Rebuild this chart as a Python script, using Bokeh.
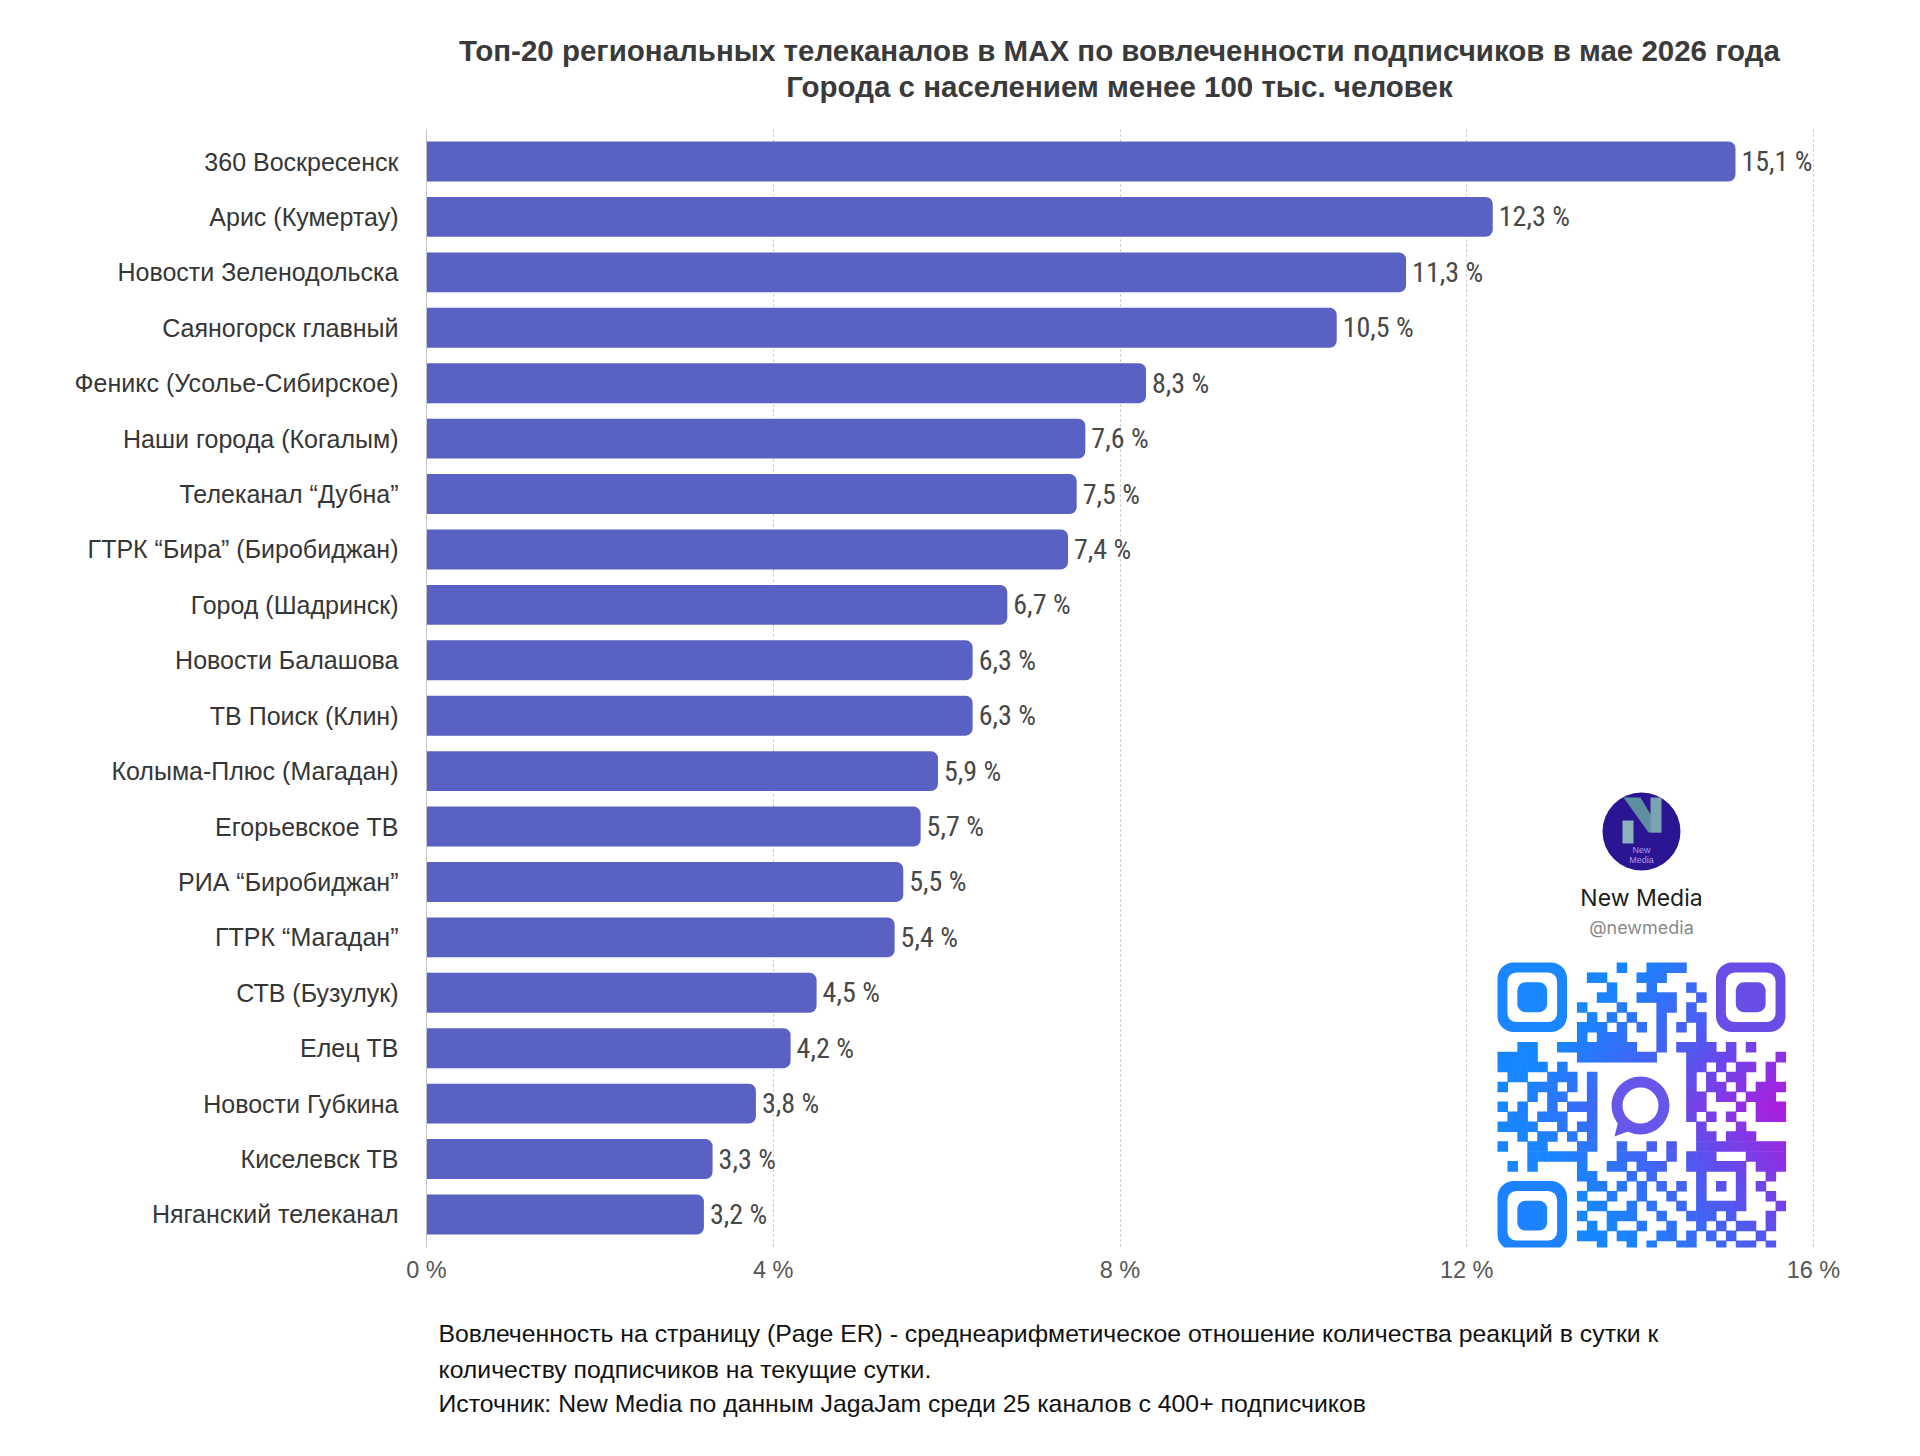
from bokeh.plotting import figure
from bokeh.layouts import column
from bokeh.models import Range1d, FixedTicker, Label, LabelSet, ColumnDataSource
from bokeh.core.properties import value
from bokeh.embed import file_html
from bokeh.resources import INLINE

# ---------------- data ----------------
channels = [
    "360 Воскресенск", "Арис (Кумертау)", "Новости Зеленодольска", "Саяногорск главный",
    "Феникс (Усолье-Сибирское)", "Наши города (Когалым)", "Телеканал “Дубна”",
    "ГТРК “Бира” (Биробиджан)", "Город (Шадринск)", "Новости Балашова", "ТВ Поиск (Клин)",
    "Колыма-Плюс (Магадан)", "Егорьевское ТВ", "РИА “Биробиджан”", "ГТРК “Магадан”",
    "СТВ (Бузулук)", "Елец ТВ", "Новости Губкина", "Киселевск ТВ", "Няганский телеканал",
]
er_values = [15.1, 12.3, 11.3, 10.5, 8.3, 7.6, 7.5, 7.4, 6.7, 6.3,
             6.3, 5.9, 5.7, 5.5, 5.4, 4.5, 4.2, 3.8, 3.3, 3.2]
x_ticks = [0, 4, 8, 12, 16]
x_tick_labels = ["0 %", "4 %", "8 %", "12 %", "16 %"]

title_lines = [
    "Топ-20 региональных телеканалов в MAX по вовлеченности подписчиков в мае 2026 года",
    "Города с населением менее 100 тыс. человек",
]
note_lines = [
    "Вовлеченность на страницу (Page ER) - среднеарифметическое отношение количества реакций в сутки к",
    "количеству подписчиков на текущие сутки.",
    "Источник: New Media по данным JagaJam среди 25 каналов с 400+ подписчиков",
]

# QR-code decoration (module columns per row, finder patterns drawn separately)
qr_rows = [
    "12,15-18", "9-10,14-16", "11,15,19", "10-11,14-17,20", "8,12,16-17,19",
    "9,11,13,16,19-20", "8-10,12,14,16,18,20", "8,10-12,16,20",
    "2-3,6-13,16,18-21,23,25", "0-3,8-15,19-23,28", "0-4,6,19-20,22,24-25,27",
    "1-2,5-7,9,19,21,23-24,27", "0,3-5,7,9,19,21-22,24,26-28", "3,5-6,9,19-20,22-23,25-27",
    "0,2,5,7-9,19-20,24,26-28", "1-2,4-6,9,19,21,23,26-28", "0-3,6,8-9,20,24",
    "2,4-5,7,9,20-21,23-25", "0,3-4,8-9,12,15,17,20-28", "3-8,12-14,17,19-21,25-28",
    "1,3,8,11-12,14-16,19-24,26-28", "8-9,13,15,20,24,27", "9-10,12,14,16,18,20,22,24,26",
    "8,11,14,17,20,24,27", "9-10,13,15,18,20-24,28", "8,11-13,16,19-21,23,27",
    "9,11,14,17,20,22,24-25,27", "8-10,12-13,16-17,19,21,23,26", "10,13,15,18-19,22,24-25,27",
]

# ---------------- geometry (page pixels) ----------------
W = 1920
TOP_H, MAIN_BOTTOM, NOTE_BOTTOM = 112, 1300, 1450
FL, F16, FR, FT, FB = 426, 1813, 1862, 129, 1247
BAR0, SP = 161, 55.42
XPX = 16.0 / (F16 - FL)


def dx(px):
    return (px - FL) * XPX


def dy(py):
    return (py - BAR0) / SP


def text_panel(y0, y1):
    # frame aligned with the chart frame; coordinates are page pixels
    f = figure(width=W, height=y1 - y0, x_range=Range1d(FL, FR), y_range=Range1d(y1, y0),
               output_backend="svg", toolbar_location=None,
               min_border_left=FL, min_border_right=W - FR,
               min_border_top=0, min_border_bottom=0,
               x_axis_type=None, y_axis_type=None)
    f.outline_line_color = None
    f.grid.visible = False
    return f


# ---------------- title ----------------
head = text_panel(0, TOP_H)
head.text(x=[1119, 1119], y=[50, 86], text=title_lines, text_align="center",
          text_baseline="middle", text_font=value("Liberation Sans"),
          text_font_style="bold", text_font_size="29.5px", text_color="#3a3a3a")

# ---------------- main chart ----------------
p = figure(width=W, height=MAIN_BOTTOM - TOP_H, x_range=Range1d(0, dx(FR)),
           y_range=Range1d(dy(FB), dy(FT)),
           output_backend="svg", toolbar_location=None,
           min_border_left=FL, min_border_right=W - FR,
           min_border_top=FT - TOP_H, min_border_bottom=MAIN_BOTTOM - FB)
p.outline_line_color = None
p.background_fill_color = "white"
p.border_fill_color = "white"

p.xaxis.ticker = FixedTicker(ticks=x_ticks)
p.xaxis.major_label_overrides = {t: l for t, l in zip(x_ticks, x_tick_labels)}
p.xaxis.axis_line_color = None
p.xaxis.major_tick_line_color = None
p.xaxis.minor_tick_line_color = None
p.xaxis.major_tick_out = 0
p.xaxis.major_label_standoff = 9
p.xaxis.major_label_text_font = "Liberation Sans"
p.xaxis.major_label_text_font_size = "23.5px"
p.xaxis.major_label_text_color = "#555555"

ypos = list(range(len(channels)))
p.yaxis.ticker = FixedTicker(ticks=ypos)
p.yaxis.major_label_overrides = {i: n for i, n in zip(ypos, channels)}
p.yaxis.axis_line_color = "#c4c4c4"
p.yaxis.major_tick_line_color = None
p.yaxis.minor_tick_line_color = None
p.yaxis.major_tick_out = 0
p.yaxis.major_label_standoff = 28
p.yaxis.major_label_text_font = "Liberation Sans"
p.yaxis.major_label_text_font_size = "25px"
p.yaxis.major_label_text_color = "#363636"

p.ygrid.grid_line_color = None
p.xgrid.ticker = FixedTicker(ticks=x_ticks[1:])
p.xgrid.grid_line_color = "#bdbdbd"
p.xgrid.grid_line_dash = "2 3"
p.xgrid.grid_line_width = 1

src = ColumnDataSource(dict(
    y=ypos, v=er_values,
    lbl=[f"{v:.1f}".replace(".", ",") + " %" for v in er_values],
))
p.hbar(y="y", left=0, right="v", height=0.72, source=src,
       fill_color="#5962c3", line_color=None, border_radius=(0, 7, 7, 0))
p.add_layout(LabelSet(x="v", y="y", text="lbl", source=src, x_offset=6,
                      text_baseline="middle", text_align="left",
                      text_font=value("Roboto Condensed, Roboto"),
                      text_font_size="28px", text_color="#484848"))

# ---------------- New Media badge ----------------
cx, cy = 1641, 831
p.scatter(x=[dx(cx)], y=[dy(cy)], size=78, marker="circle",
          fill_color="#2c1592", line_color=None)
p.patch(x=[dx(1622), dx(1633), dx(1633), dx(1622)],
        y=[dy(820), dy(820), dy(843), dy(843)], fill_color="#8db0bd", line_color=None)
p.patch(x=[dx(1623), dx(1640), dx(1661), dx(1648)],
        y=[dy(797), dy(797), dy(832), dy(832)], fill_color="#5e8fa0", line_color=None)
p.patch(x=[dx(1650), dx(1661), dx(1661), dx(1650)],
        y=[dy(797), dy(797), dy(832), dy(832)], fill_color="#7aa3b2", line_color=None)
for t, py in [("New", 849), ("Media", 859)]:
    p.add_layout(Label(x=dx(cx), y=dy(py), text=t, text_align="center",
                       text_baseline="middle", text_font="Liberation Sans",
                       text_font_size="9px", text_color="#a99cf0"))
p.add_layout(Label(x=dx(cx), y=dy(897), text="New Media", text_align="center",
                   text_baseline="middle", text_font="Inter", text_font_size="23px",
                   text_color="#1c1c1c"))
p.add_layout(Label(x=dx(cx), y=dy(927), text="@newmedia", text_align="center",
                   text_baseline="middle", text_font="Inter", text_font_size="18px",
                   text_color="#8a8a8a"))

# ---------------- QR code ----------------
QX, QY, M = 1497, 962, 9.93


def grad(c, r):
    t = c / 28.0 - 0.45 * abs(r - 14) / 14.0
    t = max(0.0, min(1.0, t))
    stops = [(0.0, (24, 134, 255)), (0.5, (82, 88, 240)), (1.0, (172, 30, 222))]
    for (t0, c0), (t1, c1) in zip(stops[:-1], stops[1:]):
        if t <= t1:
            f = (t - t0) / (t1 - t0)
            return "#%02x%02x%02x" % tuple(int(a + (b - a) * f) for a, b in zip(c0, c1))
    return "#%02x%02x%02x" % stops[-1][1]


L, R, T, B, C = [], [], [], [], []
for r, spec in enumerate(qr_rows):
    for part in spec.split(","):
        if "-" in part:
            a, b = part.split("-")
            cols = range(int(a), int(b) + 1)
        else:
            cols = [int(part)]
        for c in cols:
            L.append(dx(QX + c * M)); R.append(dx(QX + (c + 1) * M + 0.6))
            T.append(dy(QY + r * M)); B.append(dy(QY + (r + 1) * M + 0.6))
            C.append(grad(c, r))
p.quad(left=L, right=R, top=T, bottom=B, fill_color=C, line_color=None)

for (c0, r0), col in [((0, 0), "#1a86ff"), ((22, 0), "#6a4de6"), ((0, 22), "#1c82ff")]:
    for k, fc, rad in [(0, col, 16), (1, "white", 9), (2, col, 8)]:
        p.quad(left=[dx(QX + (c0 + k) * M)], right=[dx(QX + (c0 + 7 - k) * M)],
               top=[dy(QY + (r0 + k) * M)], bottom=[dy(QY + (r0 + 7 - k) * M)],
               fill_color=fc, line_color=None, border_radius=rad)

ix, iy = 1640, 1105
p.patch(x=[dx(1621), dx(1614), dx(1638)], y=[dy(1108), dy(1136), dy(1127)],
        fill_color="#6656ea", line_color=None)
p.scatter(x=[dx(ix)], y=[dy(iy)], size=58, marker="circle", fill_color="#6656ea", line_color=None)
p.scatter(x=[dx(ix)], y=[dy(iy)], size=36, marker="circle", fill_color="white", line_color=None)

# ---------------- footnote ----------------
note = text_panel(MAIN_BOTTOM, NOTE_BOTTOM)
note.text(x=[438, 438, 438], y=[1333, 1369, 1403], text=note_lines, text_align="left",
          text_baseline="middle", text_font=value("Liberation Sans"),
          text_font_size="24.8px", text_color="#111111")

layout = column(head, p, note, spacing=0)
open("out.html", "w").write(file_html(layout, INLINE))
